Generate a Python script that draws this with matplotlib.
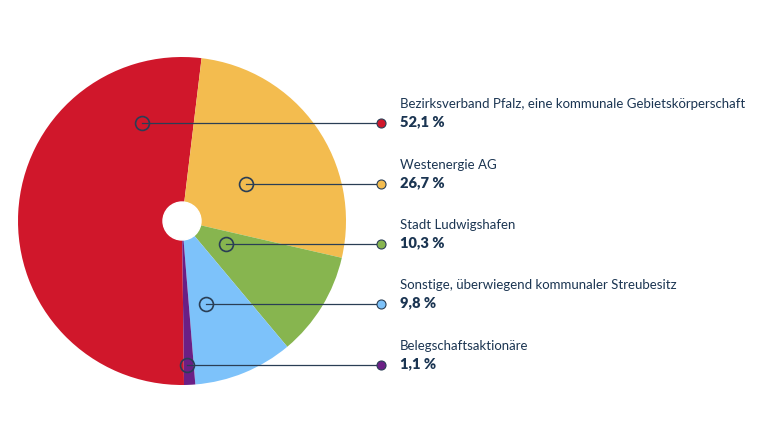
#!/usr/bin/env python3

import matplotlib.pyplot as plt
from matplotlib.patches import Circle

# Daten
labels = [
    "Bezirksverband Pfalz, eine kommunale Gebietskörperschaft",
    "Westenergie AG",
    "Stadt Ludwigshafen",
    "Sonstige, überwiegend kommunaler Streubesitz",
    "Belegschaftsaktionäre",
]
shares = [52.1, 26.7, 10.3, 9.8, 1.1]
pct_labels = ["52,1 %", "26,7 %", "10,3 %", "9,8 %", "1,1 %"]
colors = ["#D0172B", "#F3BC4F", "#87B54F", "#7DC2FA", "#6B1F85"]

text_color = "#1B3552"
line_color = "#2A3E55"

W, H = 768, 429
fig = plt.figure(figsize=(W / 100, H / 100), dpi=100)
ax = fig.add_axes([0, 0, 1, 1])

# Kreisdiagramm (Pixelkoordinaten, y nach oben)
cx, cy, r = 182, H - 221, 164
ax.pie(shares, colors=colors, center=(cx, cy), radius=r, startangle=270.7,
       counterclock=False, wedgeprops=dict(linewidth=0), frame=True)
ax.set_xlim(0, W)
ax.set_ylim(0, H)
ax.set_aspect("equal")
ax.axis("off")
ax.add_patch(Circle((cx, cy), 19, color="white", zorder=3))

# Beschriftungen mit Verbindungslinien
anchor_x = [142, 246, 226, 206, 187]
row_y = [123, 184, 244, 304, 365]
end_x = 381
text_x = 400
for i in range(len(labels)):
    y = H - row_y[i]
    ax.plot([anchor_x[i], end_x], [y, y], color=line_color, lw=0.9, zorder=4)
    ax.plot(anchor_x[i], y, "o", ms=10, mfc="none", mec=line_color, mew=1.2, zorder=5)
    ax.plot(end_x, y, "o", ms=6.5, mfc=colors[i], mec=line_color, mew=0.8, zorder=5)
    ax.text(text_x, y + 19, labels[i], fontsize=9.5, color=text_color,
            family="Lato", va="center", ha="left")
    ax.text(text_x, y + 1, pct_labels[i], fontsize=10.5, color=text_color,
            family="Lato", fontweight="heavy", va="center", ha="left")

fig.savefig("out.png", dpi=100)
